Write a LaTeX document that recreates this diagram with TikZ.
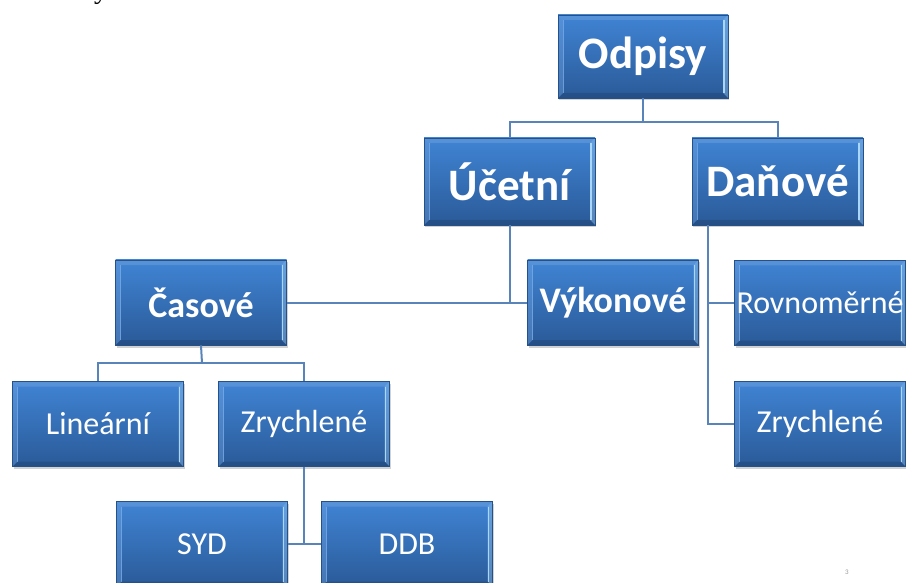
\documentclass[tikz,border=0pt]{standalone}
\usepackage{fontspec}
\setmainfont{Carlito}
\newfontfamily\slideserif{Liberation Serif}
\usetikzlibrary{shadows,calc}
\definecolor{boxtop}{RGB}{64,132,212}
\definecolor{boxbot}{RGB}{42,90,152}
\definecolor{boxedge}{RGB}{38,80,136}
\definecolor{conn}{RGB}{88,132,186}
\definecolor{bevl}{RGB}{120,170,230}
\definecolor{bevr}{RGB}{170,215,248}
\tikzset{
  orgbox/.style={rectangle, minimum width=171pt, minimum height=85pt, inner sep=0pt,
    top color=boxtop, bottom color=boxbot, draw=boxedge, line width=0.8pt, text=white,
    drop shadow={shadow xshift=1pt, shadow yshift=-2.5pt, opacity=0.35},
    path picture={
      \fill[bevl,opacity=0.35] (path picture bounding box.north west) -- ([xshift=5pt,yshift=-5pt]path picture bounding box.north west) -- ([xshift=5pt,yshift=5pt]path picture bounding box.south west) -- (path picture bounding box.south west) -- cycle;
      \draw[bevl,line width=1pt,opacity=0.8] ([xshift=5pt,yshift=-5pt]path picture bounding box.north west) -- ([xshift=5pt,yshift=5pt]path picture bounding box.south west);
      \fill[bevr,opacity=0.35] (path picture bounding box.north east) -- ([xshift=-5pt,yshift=-5pt]path picture bounding box.north east) -- ([xshift=-5pt,yshift=5pt]path picture bounding box.south east) -- (path picture bounding box.south east) -- cycle;
      \draw[bevr,line width=1.2pt] ([xshift=-4pt,yshift=-5pt]path picture bounding box.north east) -- ([xshift=-4pt,yshift=5pt]path picture bounding box.south east);
      \fill[white,opacity=0.12] (path picture bounding box.north west) -- ([xshift=5pt,yshift=-5pt]path picture bounding box.north west) -- ([xshift=-5pt,yshift=-5pt]path picture bounding box.north east) -- (path picture bounding box.north east) -- cycle;
      \fill[black,opacity=0.12] (path picture bounding box.south west) -- ([xshift=5pt,yshift=5pt]path picture bounding box.south west) -- ([xshift=-5pt,yshift=5pt]path picture bounding box.south east) -- (path picture bounding box.south east) -- cycle;
    }},
  lvlA/.style={orgbox, font=\fontsize{45}{50}\selectfont\bfseries},
  lvlB/.style={orgbox, font=\fontsize{36}{40}\selectfont\bfseries},
  lvlC/.style={orgbox, font=\fontsize{32}{36}\selectfont},
  link/.style={draw=conn, line width=2pt}
}
\begin{document}
\begin{tikzpicture}[x=1pt,y=-1pt]
\useasboundingbox[fill=white] (0,0) rectangle (906,583);
\clip (0,0) rectangle (906,583);
% cut-off slide text and page number
\node[font=\slideserif\fontsize{28}{30}\selectfont, anchor=base, inner sep=0pt] (ytail) at (101,-1) {y};
\node[font=\fontsize{7}{8}\selectfont, text=gray!80, inner sep=0pt] (pg) at (847,572) {3};
% boxes
\node[lvlA, minimum height=83pt, minimum width=170pt] (odp) at (643,56.5) {Odpisy};
\node[lvlA, minimum height=87pt] (uc) at (509.5,181.5) {Účetní};
\node[lvlA, minimum height=87pt] (dan) at (777.5,181.5) {Daňové};
\node[lvlB] (cas) at (201,302.5) {Časové};
\node[lvlB] (vyk) at (613,302.5) {Výkonové};
\node[lvlC] (rov) at (820,303) {Rovnoměrné};
\node[lvlC] (lin) at (98,424) {Lineární};
\node[lvlC] (zr1) at (304,424) {Zrychlené};
\node[lvlC] (zr2) at (820,424) {Zrychlené};
\node[lvlC] (syd) at (202,544) {SYD};
\node[lvlC] (ddb) at (407,544) {DDB};
% connectors
\coordinate (j1) at (643,122);
\draw[link] (odp.south) -- (j1);
\draw[link] (uc.north) |- (j1) -| (dan.north);
\draw[link] (uc.south) -- (uc.south |- cas.east);
\draw[link] (cas.east) -- (vyk.west);
\coordinate (j2) at (202,363);
\draw[link] (cas.south) -- (j2);
\draw[link] (lin.north) |- (j2) -| (zr1.north);
\draw[link] (zr1.south) -- (zr1.south |- syd.east);
\draw[link] (syd.east) -- (ddb.west);
\coordinate (d0) at ([xshift=16pt]dan.south west);
\draw[link] (d0) |- (zr2.west);
\draw[link] (d0 |- rov.west) -- (rov.west);
\end{tikzpicture}
\end{document}
